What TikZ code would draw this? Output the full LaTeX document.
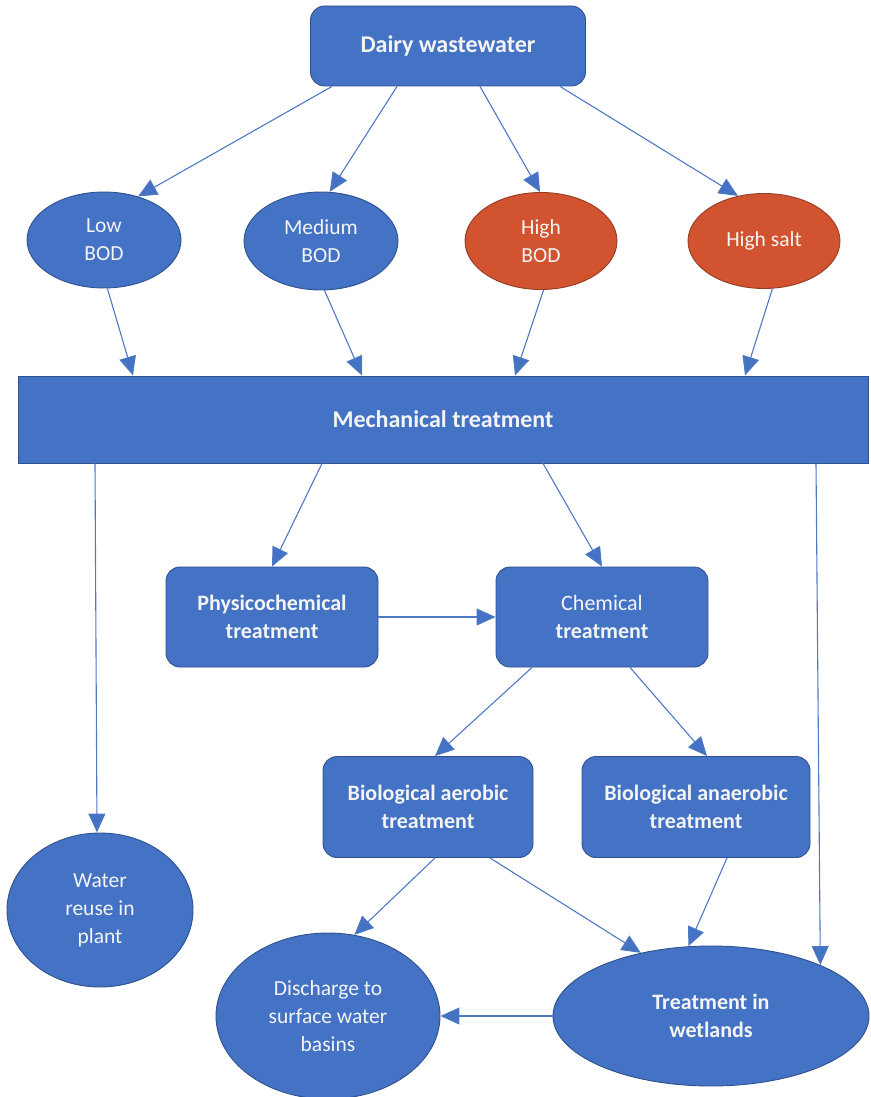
\documentclass[tikz,border=0pt]{standalone}
\usepackage{fontspec}
\setmainfont{Carlito}
\usetikzlibrary{arrows.meta,shapes.geometric}
\definecolor{fillblue}{HTML}{4472C4}
\definecolor{edgeblue}{HTML}{2F528F}
\definecolor{fillorange}{RGB}{209,83,48}
\definecolor{edgeorange}{RGB}{150,60,35}
\definecolor{lineblue}{HTML}{4F78C2}
\definecolor{txt}{HTML}{F4F4F4}
\begin{document}
\begin{tikzpicture}[x=1pt,y=-1pt,
  base/.style={draw=edgeblue, line width=0.9pt, fill=fillblue, text=txt, align=center, inner sep=0pt},
  boldtext/.style={font=\fontsize{22}{28}\selectfont\bfseries},
  titletext/.style={font=\fontsize{24}{28}\selectfont\bfseries},
  plaintext/.style={font=\fontsize{21.5}{28}\selectfont},
  rbox/.style={base, boldtext, rounded corners=14pt},
  oval/.style={base, plaintext, ellipse},
  ovalorange/.style={oval, fill=fillorange, draw=edgeorange},
  arr/.style={draw=lineblue, line width=1.1pt, -{Triangle[length=19pt,width=17pt,fill=fillblue]}}
]
\useasboundingbox (0,0) rectangle (870,1097);

% top
\node[rbox, titletext, minimum width=275pt, minimum height=80pt] (dairy) at (448,46) {Dairy wastewater};

% categories
\node[oval, minimum width=154pt, minimum height=96pt] (low) at (104,240) {Low\\BOD};
\node[oval, minimum width=154pt, minimum height=98pt] (medium) at (321,241) {Medium\\BOD};
\node[ovalorange, minimum width=152pt, minimum height=97pt] (highbod) at (541,241) {High\\BOD};
\node[ovalorange, minimum width=152pt, minimum height=95pt] (salt) at (764,241) {High salt};

% mechanical
\node[base, titletext, minimum width=850pt, minimum height=87pt] (mech) at (443,419.5) {Mechanical treatment};

% treatments
\node[rbox, minimum width=212pt, minimum height=100pt] (physico) at (272,617) {Physicochemical\\treatment};
\node[rbox, font=\fontsize{22}{28}\selectfont, minimum width=212pt, minimum height=100pt] (chem) at (602,617) {Chemical\\\textbf{treatment}};
\node[rbox, minimum width=210pt, minimum height=101pt] (aerobic) at (428,807) {Biological aerobic\\treatment};
\node[rbox, minimum width=228pt, minimum height=101pt] (anaerobic) at (696,807) {Biological anaerobic\\treatment};

% outcomes
\node[oval, minimum width=186pt, minimum height=154pt] (water) at (100,910) {Water\\reuse in\\plant};
\node[oval, minimum width=224pt, minimum height=166pt] (dis) at (328,1016) {Discharge to\\surface water\\basins};
\node[oval, boldtext, minimum width=316pt, minimum height=140pt] (wet) at (711,1016) {Treatment in\\wetlands};

% connectors from dairy
\draw[arr] ([xshift=-116pt]dairy.south) -- (low.52);
\draw[arr] ([xshift=-51pt]dairy.south) -- (medium.80);
\draw[arr] ([xshift=32pt]dairy.south) -- (highbod.91);
\draw[arr] ([xshift=112pt]dairy.south) -- (salt.120);

% to mechanical
\draw[arr] (low.-86) -- ([xshift=-310pt]mech.north);
\draw[arr] (medium.-86) -- ([xshift=-81pt]mech.north);
\draw[arr] (highbod.-87) -- ([xshift=72pt]mech.north);
\draw[arr] (salt.-80) -- ([xshift=302pt]mech.north);

% from mechanical
\draw[arr] ([xshift=-121pt]mech.south) -- (physico.north);
\draw[arr] ([xshift=100pt]mech.south) -- (chem.north);
\draw[arr] ([xshift=-348pt]mech.south) -- ([xshift=-3pt]water.north);
\draw[arr] ([xshift=373pt]mech.south) -- (wet.25);

% treatments
\draw[arr] (physico.east) -- (chem.west);
\draw[arr] ([xshift=-70pt]chem.south) -- ([xshift=7pt]aerobic.north);
\draw[arr] ([xshift=28pt]chem.south) -- ([xshift=11pt]anaerobic.north);

% to outcomes
\draw[arr] ([xshift=7pt]aerobic.south) -- (dis.72);
\draw[arr] ([xshift=62pt]aerobic.south) -- (wet.138);
\draw[arr] ([xshift=31pt]anaerobic.south) -- (wet.108);
\draw[arr] (wet.west) -- (dis.east);
\end{tikzpicture}
\end{document}
